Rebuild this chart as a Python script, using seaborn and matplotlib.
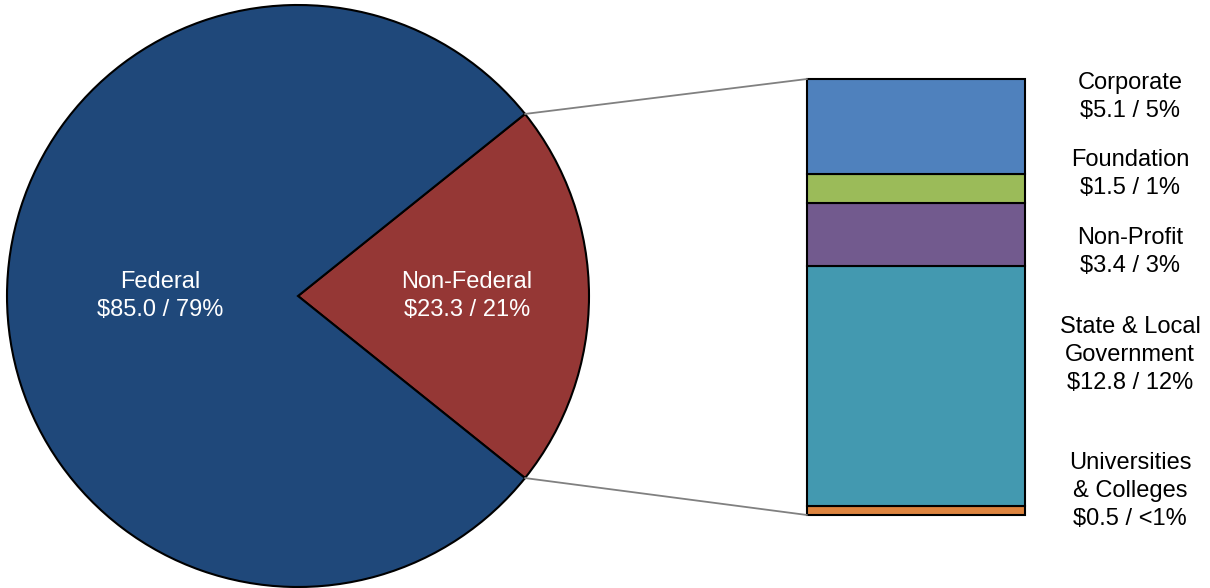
import matplotlib
matplotlib.use("Agg")
import matplotlib.pyplot as plt
from matplotlib.patches import ConnectionPatch
import seaborn as sns
import numpy as np

# pie data (billions)
pie_labels = ["Non-Federal", "Federal"]
pie_values = [23.3, 85.0]
pie_pcts = ["21%", "79%"]
pie_colors = ["#953735", "#1F487A"]

# breakdown of non-federal, bottom to top
bar_labels = ["Universities\n& Colleges", "State & Local\nGovernment", "Non-Profit", "Foundation", "Corporate"]
bar_values = [0.5, 12.8, 3.4, 1.5, 5.1]
bar_pcts = ["<1%", "12%", "3%", "1%", "5%"]
bar_colors = ["#DD843F", "#4399B0", "#725A8E", "#9BBB59", "#4F81BD"]


def main():
    sns.set_style("white")
    plt.rcParams["font.family"] = ["Liberation Sans", "DejaVu Sans"]

    W, H = 1210, 588
    fig = plt.figure(figsize=(W / 100, H / 100), dpi=100)

    # pie
    ax_pie = fig.add_axes([7 / W, 1 / H, 582 / W, 582 / H])
    total = sum(pie_values)
    half = 360 * pie_values[0] / total / 2
    wedges, _ = ax_pie.pie(pie_values, colors=pie_colors, startangle=-half, radius=1,
                           wedgeprops=dict(edgecolor="black", linewidth=1.5))
    ax_pie.set_xlim(-1, 1)
    ax_pie.set_ylim(-1, 1)
    ax_pie.set_aspect("equal")
    ax_pie.axis("off")

    ls = 1.34
    ax_pie.text(0.58, 0, f"{pie_labels[0]}\n${pie_values[0]:.1f} / {pie_pcts[0]}",
                ha="center", va="center", color="white", fontsize=17, linespacing=ls)
    ax_pie.text(-0.475, 0, f"{pie_labels[1]}\n${pie_values[1]:.1f} / {pie_pcts[1]}",
                ha="center", va="center", color="white", fontsize=17, linespacing=ls)

    # stacked bar
    ax_bar = fig.add_axes([807 / W, 73 / H, 218 / W, 436 / H])
    bottom = 0
    for lab, v, c in zip(bar_labels, bar_values, bar_colors):
        ax_bar.bar(0.5, v, width=1, bottom=bottom, color=c, edgecolor="black",
                   linewidth=1.5, clip_on=False)
        bottom += v
    ax_bar.set_xlim(0, 1)
    ax_bar.set_ylim(0, bottom)
    ax_bar.axis("off")

    # label positions in pixels from the top of the figure
    label_y_px = [491, 355, 252, 174, 97]
    for lab, v, p, ypx in zip(bar_labels, bar_values, bar_pcts, label_y_px):
        fig.text(1130 / W, 1 - ypx / H, f"{lab}\n${v:.1f} / {p}", ha="center", va="center",
                 fontsize=17, linespacing=ls, color="black")

    # connector lines
    theta = np.deg2rad(half)
    for sgn, yb in [(1, bottom), (-1, 0)]:
        con = ConnectionPatch(xyA=(np.cos(theta), sgn * np.sin(theta)), coordsA=ax_pie.transData,
                              xyB=(0, yb), coordsB=ax_bar.transData,
                              color="#808080", linewidth=1.3)
        fig.add_artist(con)

    fig.savefig("out.png", dpi=100, facecolor="white")


if __name__ == '__main__':
    main()
